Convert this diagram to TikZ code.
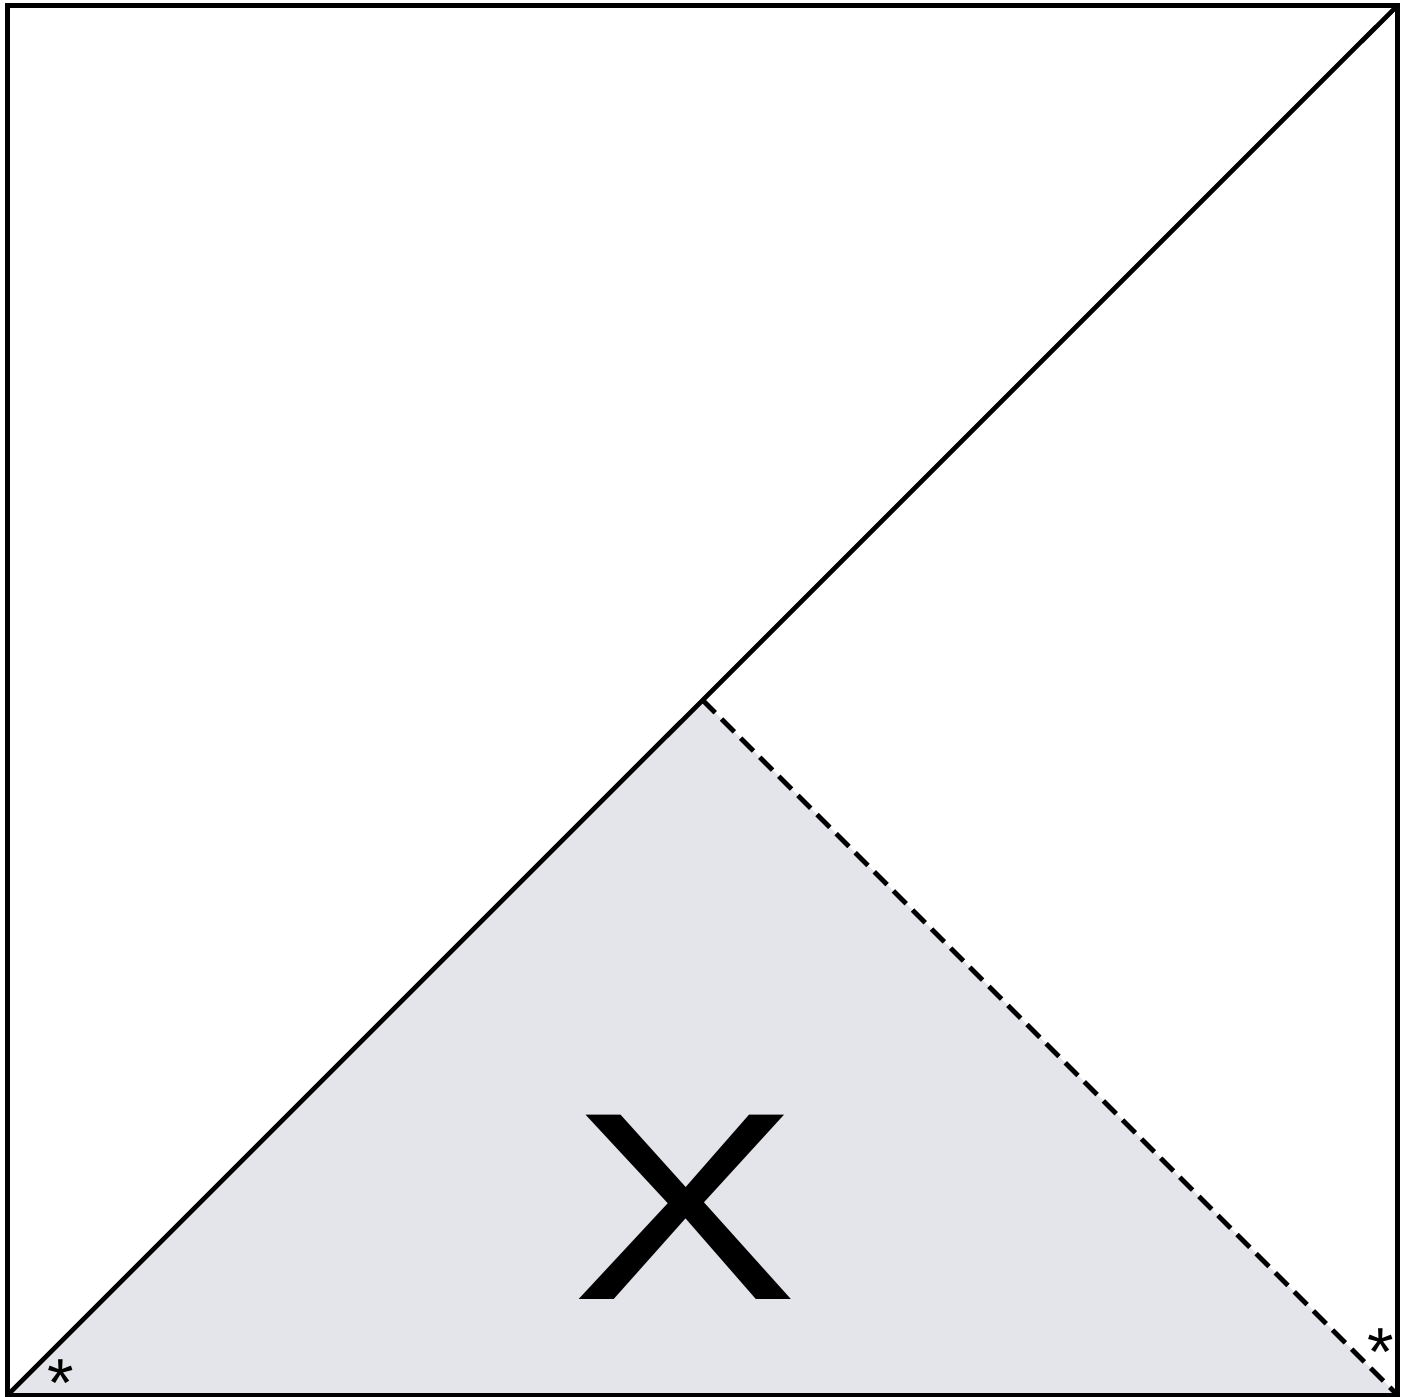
\documentclass[tikz,border=0pt]{standalone}
\usepackage{fontspec}
\setmainfont{Liberation Sans}
\definecolor{triFill}{HTML}{E4E5EA}
\newcommand{\tightstar}{\raisebox{-0.431em}[0.287em][0pt]{*}}
\begin{document}
\begin{tikzpicture}[x=0.5pt,y=-0.5pt,
  edge/.style={line width=2.3pt,line join=miter},
  frame/.style={line width=2.4pt},
  dashedge/.style={line width=2.4pt,dash pattern=on 9pt off 4.5pt},
  star/.style={font=\fontsize{34}{34}\selectfont,inner sep=0pt}]
\useasboundingbox (0,0) rectangle (1410,1397);
\coordinate (BL) at (7.5,1395);
\coordinate (BR) at (1397.5,1395);
\coordinate (TR) at (1397.5,5.5);
\coordinate (TL) at (7.5,5.5);
\coordinate (A) at (702.5,700);
\fill[triFill] (BL) -- (A) -- (BR) -- cycle;
\draw[dashedge] (A) -- (BR);
\draw[edge] (BL) -- (TR);
\draw[frame] (TL) rectangle (BR);
\node[font=\fontsize{134}{134}\selectfont,inner sep=0pt,xscale=1.27] (X) at (685,1207) {X};
\node[star] (s1) at (61,1367) {\tightstar};
\node[star] (s2) at (1381,1336) {\tightstar};
\end{tikzpicture}
\end{document}
